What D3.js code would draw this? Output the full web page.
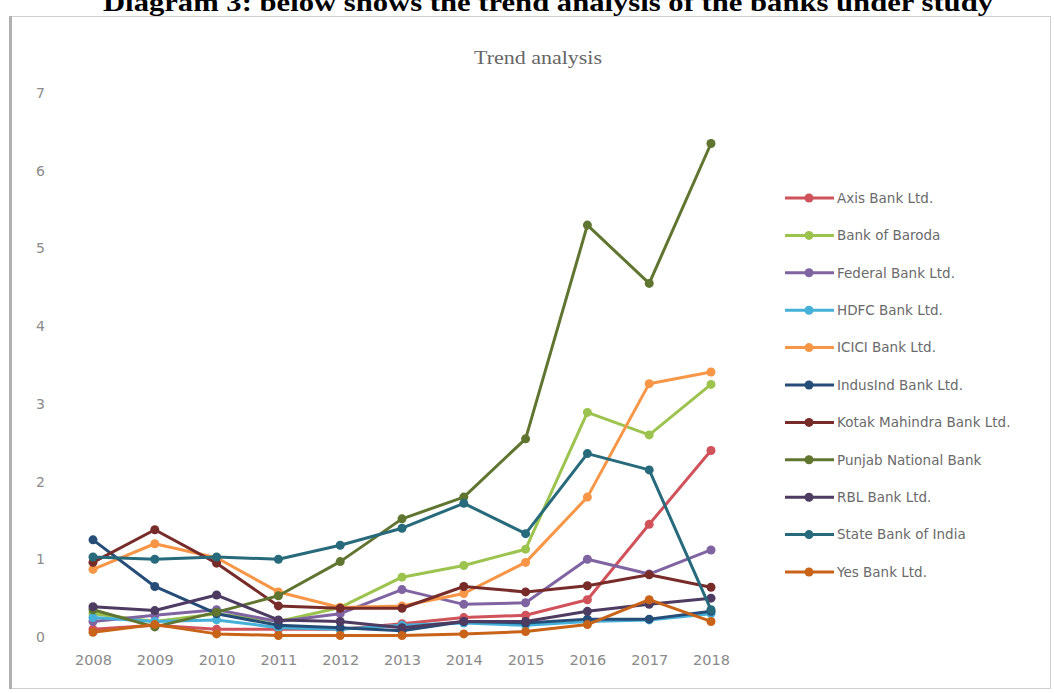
<!DOCTYPE html>
<html>
<head>
<meta charset="utf-8">
<script src="https://cdn.jsdelivr.net/npm/d3@7"></script>
<style>
  html, body { margin: 0; padding: 0; background: #fff; }
  svg { display: block; }
</style>
</head>
<body>
<svg id="chart" width="1054" height="693"></svg>
<script>
const years = ["2008","2009","2010","2011","2012","2013","2014","2015","2016","2017","2018"];
const yTicks = [0,1,2,3,4,5,6,7];
const banks = ["Axis Bank Ltd.","Bank of Baroda","Federal Bank Ltd.","HDFC Bank Ltd.","ICICI Bank Ltd.","IndusInd Bank Ltd.","Kotak Mahindra Bank Ltd.","Punjab National Bank","RBL Bank Ltd.","State Bank of India","Yes Bank Ltd."];
const axisBank    = [0.10,0.15,0.10,0.10,0.10,0.17,0.25,0.28,0.48,1.45,2.40];
const bankBaroda  = [0.30,0.20,0.30,0.20,0.38,0.77,0.92,1.13,2.89,2.60,3.25];
const federalBank = [0.20,0.28,0.35,0.20,0.30,0.61,0.42,0.44,1.00,0.81,1.12];
const hdfcBank    = [0.25,0.20,0.22,0.12,0.10,0.15,0.18,0.15,0.20,0.22,0.30];
const iciciBank   = [0.87,1.20,1.02,0.58,0.38,0.40,0.56,0.96,1.80,3.26,3.41];
const indusIndBank= [1.25,0.65,0.30,0.15,0.12,0.08,0.20,0.18,0.23,0.23,0.33];
const kotakBank   = [0.96,1.38,0.95,0.40,0.37,0.37,0.65,0.58,0.66,0.80,0.64];
const pnbBank     = [0.35,0.13,0.32,0.53,0.97,1.52,1.80,2.55,5.30,4.55,6.35];
const rblBank     = [0.39,0.34,0.54,0.22,0.20,0.12,0.20,0.20,0.33,0.42,0.50];
const sbiBank     = [1.03,1.00,1.03,1.00,1.18,1.40,1.72,1.33,2.36,2.15,0.35];
const yesBank     = [0.06,0.16,0.04,0.02,0.02,0.02,0.04,0.07,0.16,0.48,0.20];
const seriesValues = [axisBank,bankBaroda,federalBank,hdfcBank,iciciBank,indusIndBank,kotakBank,pnbBank,rblBank,sbiBank,yesBank];
const colors = ["#D0525A","#9CC34E","#8064A2","#45B0D8","#F79646","#264C78","#772C2A","#5F7530","#4D3B62","#276A7C","#C86318"];

const svg = d3.select("#chart");

// Heading (partly cut at the top, as in the source picture)
svg.append("text")
  .attr("x", 548).attr("y", 11)
  .attr("text-anchor", "middle")
  .attr("font-family", "'Liberation Serif', 'Times New Roman', serif")
  .attr("font-weight", "bold")
  .attr("font-size", 26)
  .attr("fill", "#000")
  .attr("textLength", 890)
  .attr("lengthAdjust", "spacingAndGlyphs")
  .text("Diagram 3: below shows the trend analysis of the banks under study");

// Chart frame
svg.append("rect")
  .attr("x", 10.5).attr("y", 16.5).attr("width", 1040).attr("height", 672)
  .attr("fill", "#fff").attr("stroke", "#cfcfcf").attr("stroke-width", 1);
svg.append("line")
  .attr("x1", 10.5).attr("x2", 10.5).attr("y1", 16).attr("y2", 689)
  .attr("stroke", "#b0b0b0").attr("stroke-width", 3);

// Title
svg.append("text")
  .attr("x", 538).attr("y", 64)
  .attr("text-anchor", "middle")
  .attr("font-family", "'Liberation Serif', 'Times New Roman', serif")
  .attr("font-size", 19)
  .attr("fill", "#666")
  .attr("textLength", 128)
  .attr("lengthAdjust", "spacingAndGlyphs")
  .text("Trend analysis");

const x = d3.scalePoint().domain(years).range([93, 711]);
const y = d3.scaleLinear().domain([0, 7]).range([637, 93]);

const tickFont = "'DejaVu Sans', Verdana, sans-serif";

const yAxis = svg.append("g")
  .attr("transform", "translate(46,0)")
  .call(d3.axisLeft(y).tickValues(yTicks).tickFormat(d3.format("d")).tickSize(0).tickPadding(1));
yAxis.select(".domain").remove();
yAxis.selectAll("text")
  .attr("font-family", tickFont)
  .attr("font-size", 14).attr("fill", "#8a8a8a");

const xAxis = svg.append("g")
  .attr("transform", "translate(0,649)")
  .call(d3.axisBottom(x).tickSize(0).tickPadding(6));
xAxis.select(".domain").remove();
xAxis.selectAll("text")
  .attr("font-family", tickFont)
  .attr("font-size", 14.5).attr("fill", "#8a8a8a");

const line = d3.line().x((d, i) => x(years[i])).y(d => y(d));

const plot = svg.append("g");
seriesValues.forEach((vals, k) => {
  const g = plot.append("g");
  g.append("path")
    .attr("d", line(vals))
    .attr("fill", "none")
    .attr("stroke", colors[k])
    .attr("stroke-width", 3)
    .attr("stroke-linejoin", "round");
  g.selectAll("circle").data(vals).join("circle")
    .attr("cx", (d, i) => x(years[i]))
    .attr("cy", d => y(d))
    .attr("r", 4.5)
    .attr("fill", colors[k]);
});

// Legend
const legendY = d3.scalePoint().domain(banks).range([198, 572]);
const legend = svg.append("g");
banks.forEach((b, k) => {
  const ly = legendY(b);
  legend.append("line")
    .attr("x1", 785).attr("x2", 834).attr("y1", ly).attr("y2", ly)
    .attr("stroke", colors[k]).attr("stroke-width", 3);
  legend.append("circle")
    .attr("cx", 809).attr("cy", ly).attr("r", 4.5).attr("fill", colors[k]);
  legend.append("text")
    .attr("x", 837).attr("y", ly).attr("dy", "0.35em")
    .attr("font-family", tickFont)
    .attr("font-size", 13.5).attr("fill", "#6a6a6a")
    .text(b);
});
</script>
</body>
</html>
